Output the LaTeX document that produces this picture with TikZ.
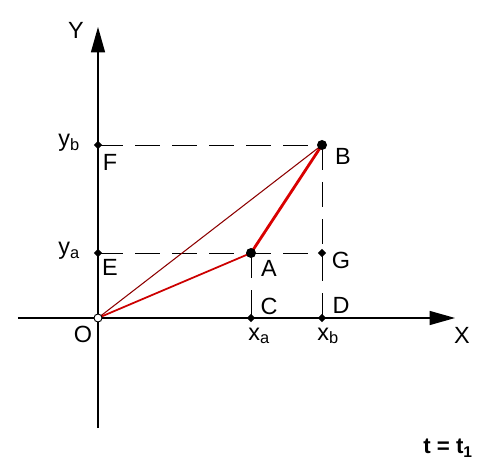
\documentclass[tikz,border=0pt]{standalone}
\usepackage{fontspec}
\setmainfont{Liberation Sans}
\usetikzlibrary{calc}
\usetikzlibrary{arrows.meta}
\usetikzlibrary{shapes.geometric}

\newcommand{\subidx}[1]{\textsubscript{#1}}

\begin{document}
\begin{tikzpicture}[x=0.03cm,y=0.03cm,font=\fontsize{20}{24}\selectfont,
  axis/.style={line width=1.1pt,-{Triangle[length=0.76cm,width=0.42cm]}},
  guide/.style={line width=0.8pt,dash pattern=on 0.75cm off 0.36cm},
  bigdot/.style={circle,fill=black,inner sep=0pt,minimum size=0.3cm},
  smalldot/.style={diamond,fill=black,inner sep=0pt,minimum size=0.26cm}]
\useasboundingbox (-98,-158) rectangle (403,318);
\coordinate(O) at (0,0);
\coordinate(Xl) at (-80,0);
\coordinate(Xr) at (357,0);
\coordinate(Yd) at (0,-110);
\coordinate(Yu) at (0,291);
\coordinate(F) at (0,173);
\coordinate(E) at (0,65);
\coordinate(A) at (153,65);
\coordinate(B) at (224,173);
\coordinate(C) at (153,0);
\coordinate(D) at (224,0);
\coordinate(G) at (224,65);
% axes
\draw[axis] (Yd)--(Yu);
\draw[axis] (Xl)--(Xr);
% projections
\draw[guide] (F)--(B);
\draw[guide] (E)--(G);
\draw[guide] (A)--(C);
\draw[guide] (B)--(D);
% paths
\draw[red!55!black,line width=0.9pt] (O)--(B);
\draw[red!80!black,line width=1.5pt] (O)--(A);
\draw[red!85!black,line width=2.4pt] (A)--(B);
% points
\foreach \p in {F,E,C,D,G} \node[smalldot] at (\p) {};
\node[bigdot] at (A) {};
\node[bigdot] at (B) {};
\draw[fill=white,line width=0.8pt] (O) circle (4);
% labels
\node (lY) at (-22,288) {Y};
\node (lX) at (364,-17) {X};
\node (lO) at (-15,-16) {O};
\node (lyb) at (-29,175) {y\subidx{b}};
\node (lF) at (12,156) {F};
\node (lya) at (-29,67) {y\subidx{a}};
\node (lE) at (12,51) {E};
\node (lA) at (171,50) {A};
\node (lG) at (243,58) {G};
\node (lB) at (245,162) {B};
\node (lC) at (171,12) {C};
\node (lD) at (243,13) {D};
\node (lxa) at (161,-18) {x\subidx{a}};
\node (lxb) at (230,-18) {x\subidx{b}};
\node[font=\bfseries\fontsize{19}{22}\selectfont] (lt) at (350,-130) {t = t\subidx{1}};
\end{tikzpicture}
\end{document}
